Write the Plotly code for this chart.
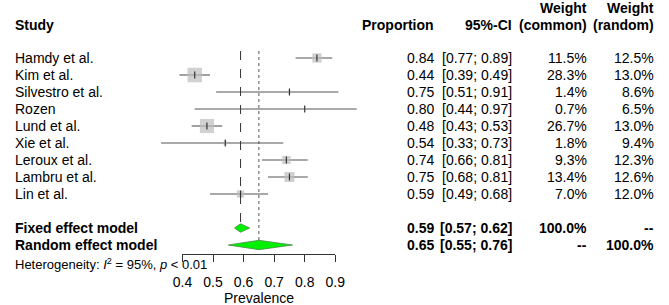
import math
import plotly.graph_objects as go

# ---------------- data ----------------
studies = ["Hamdy et al.", "Kim et al.", "Silvestro et al.", "Rozen", "Lund et al.",
           "Xie et al.", "Leroux et al.", "Lambru et al.", "Lin et al."]
prop = [0.84, 0.44, 0.75, 0.80, 0.48, 0.54, 0.74, 0.75, 0.59]
ci_low = [0.77, 0.39, 0.51, 0.44, 0.43, 0.33, 0.66, 0.68, 0.49]
ci_high = [0.89, 0.49, 0.91, 0.97, 0.53, 0.73, 0.81, 0.81, 0.68]
w_common = [11.5, 28.3, 1.4, 0.7, 26.7, 1.8, 9.3, 13.4, 7.0]
w_random = [12.5, 13.0, 8.6, 6.5, 13.0, 9.4, 12.3, 12.6, 12.0]

fixed_est, fixed_low, fixed_high = 0.59, 0.57, 0.62
random_est, random_low, random_high = 0.65, 0.55, 0.76
hetero_I2 = "95%"
hetero_p = "0.01"
tick_vals = [0.4, 0.5, 0.6, 0.7, 0.8, 0.9]
x_title = "Prevalence"

# ---------------- geometry ----------------
W, H = 669, 305
px_per_unit = 315.0
x0_px = 209.3 - 0.5 * px_per_unit          # pixel of value 0
x_range = [(0 - x0_px) / px_per_unit, (W - x0_px) / px_per_unit]
row0_px, row_h = 58.0, 17.0
y_range = [(H - row0_px) / row_h, (0 - row0_px) / row_h]   # reversed
n = len(studies)
rows = list(range(n))
row_fixed = n + 1
row_random = n + 2
row_het = n + 3.1
dh_fixed = 4.2 / row_h
dh_random = 4.7 / row_h

FONT = "Liberation Sans, Arial, sans-serif"
fs = 14

fig = go.Figure()

# CI lines
for r, lo, hi in zip(rows, ci_low, ci_high):
    fig.add_trace(go.Scatter(x=[lo, hi], y=[r, r], mode="lines",
                             line=dict(color="#555555", width=1.1),
                             showlegend=False, hoverinfo="skip"))

# weight squares
fig.add_trace(go.Scatter(
    x=prop, y=rows, mode="markers",
    marker=dict(symbol="square", color="#BEBEBE",
                size=[2.73 * math.sqrt(w) for w in w_common],
                line=dict(width=0)),
    showlegend=False, hoverinfo="skip"))
# point estimate ticks
fig.add_trace(go.Scatter(
    x=prop, y=rows, mode="markers",
    marker=dict(symbol="line-ns", size=5, line=dict(color="#333333", width=1.2)),
    showlegend=False, hoverinfo="skip"))

# reference lines
fig.add_shape(type="line", xref="x", yref="y", x0=fixed_est, x1=fixed_est,
              y0=-0.41, y1=row_fixed - dh_fixed,
              line=dict(color="#333333", width=1, dash="dash"))
fig.add_shape(type="line", xref="x", yref="y", x0=random_est, x1=random_est,
              y0=-0.41, y1=row_random - dh_random,
              line=dict(color="#555555", width=1, dash="dot"))

# diamonds
for est, lo, hi, r, dh in [(fixed_est, fixed_low, fixed_high, row_fixed, dh_fixed),
                           (random_est, random_low, random_high, row_random, dh_random)]:
    fig.add_trace(go.Scatter(
        x=[lo, est, hi, est, lo], y=[r, r - dh, r, r + dh, r],
        mode="lines", fill="toself", fillcolor="#00F000",
        line=dict(color="#4A8A4A", width=0.8),
        showlegend=False, hoverinfo="skip"))

# dummy trace for the visible axis
fig.add_trace(go.Scatter(x=[tick_vals[0], tick_vals[-1]], y=[None, None],
                         xaxis="x2", yaxis="y", mode="markers",
                         showlegend=False, hoverinfo="skip"))

# ---------------- text columns ----------------
col_study = 3 / W
col_prop = 439 / W
col_ci = 519.5 / W
col_wc = 597 / W
col_wr = 666 / W
hdr_row1 = -2.95
hdr_row2 = -1.95

ann = []
def txt(x, y, s, anchor="right", bold=False, size=fs):
    ann.append(dict(x=x, y=y, xref="paper", yref="y", text=(f"<b>{s}</b>" if bold else s),
                    showarrow=False, xanchor=anchor, yanchor="middle",
                    font=dict(family=FONT, size=size, color="black")))

txt(col_study, hdr_row2, "Study", "left", True)
txt(col_prop, hdr_row2, "Proportion", "right", True)
txt(col_ci, hdr_row2, "95%-CI", "right", True)
txt(col_wc, hdr_row1, "Weight", "right", True)
txt(col_wc, hdr_row2, "(common)", "right", True)
txt(col_wr, hdr_row1, "Weight", "right", True)
txt(col_wr, hdr_row2, "(random)", "right", True)

for r, s, p, lo, hi, wc, wr in zip(rows, studies, prop, ci_low, ci_high, w_common, w_random):
    txt(col_study, r, s, "left")
    txt(col_prop, r, f"{p:.2f}")
    txt(col_ci, r, f"[{lo:.2f}; {hi:.2f}]")
    txt(col_wc, r, f"{wc:.1f}%")
    txt(col_wr, r, f"{wr:.1f}%")

txt(col_study, row_fixed, "Fixed effect model", "left", True)
txt(col_prop, row_fixed, f"{fixed_est:.2f}", bold=True)
txt(col_ci, row_fixed, f"[{fixed_low:.2f}; {fixed_high:.2f}]", bold=True)
txt(col_wc, row_fixed, "100.0%", bold=True)
txt(col_wr, row_fixed, "--", bold=True)

txt(col_study, row_random, "Random effect model", "left", True)
txt(col_prop, row_random, f"{random_est:.2f}", bold=True)
txt(col_ci, row_random, f"[{random_low:.2f}; {random_high:.2f}]", bold=True)
txt(col_wc, row_random, "--", bold=True)
txt(col_wr, row_random, "100.0%", bold=True)

txt(col_study, row_het,
    f"Heterogeneity: <i>I</i><sup>2</sup> = {hetero_I2}, <i>p</i> &lt; {hetero_p}",
    "left", size=13)

# axis title
ann.append(dict(x=(tick_vals[0] + tick_vals[-1]) / 2, xref="x2",
                y=1 - 297.5 / H, yref="paper", text=x_title, showarrow=False,
                xanchor="center", yanchor="middle",
                font=dict(family=FONT, size=fs, color="black")))

axis_line_y = 1 - 254 / H
fig.update_layout(
    width=W, height=H,
    margin=dict(l=0, r=0, t=0, b=0),
    paper_bgcolor="white", plot_bgcolor="rgba(0,0,0,0)",
    showlegend=False,
    annotations=ann,
    xaxis=dict(range=x_range, domain=[0, 1], visible=False, fixedrange=True),
    yaxis=dict(range=y_range, domain=[0, 1], visible=False, fixedrange=True),
    xaxis2=dict(range=[tick_vals[0], tick_vals[-1]],
                domain=[(x0_px + tick_vals[0] * px_per_unit) / W,
                        (x0_px + tick_vals[-1] * px_per_unit) / W],
                anchor="free", position=axis_line_y,
                tickvals=tick_vals, ticktext=[f"{t:.1f}" for t in tick_vals],
                ticks="outside", ticklen=7, tickcolor="#333333", tickwidth=1,
                showline=True, linecolor="#333333", linewidth=1,
                showgrid=False, zeroline=False, fixedrange=True,
                ticklabelstandoff=8,
                tickfont=dict(family=FONT, size=fs, color="black")),
)

fig.write_html("out.html", config={"displayModeBar": False},
               post_script="document.body.style.margin='0';")
